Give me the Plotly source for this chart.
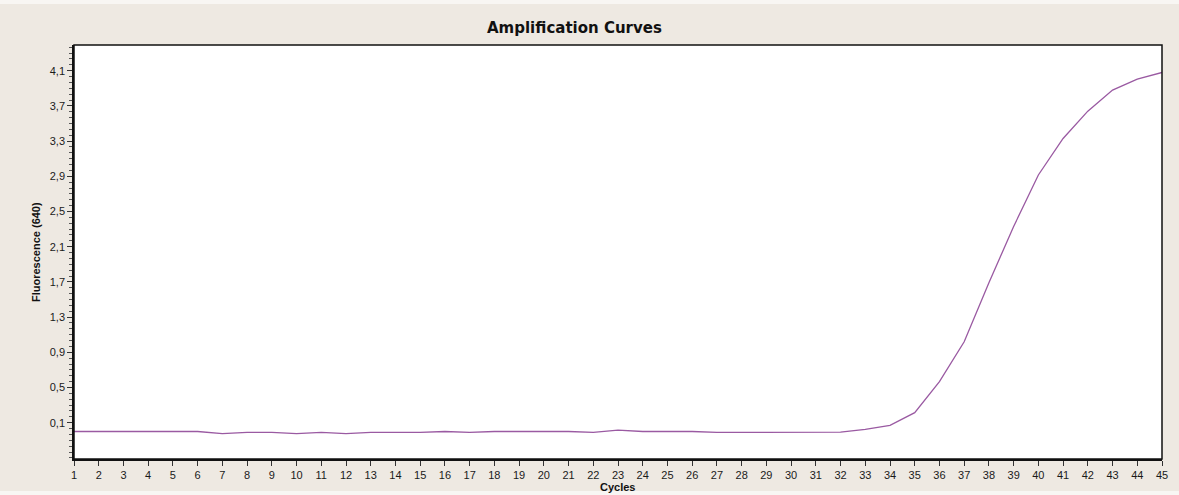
import plotly.graph_objects as go

# Amplification data: fluorescence (640 nm channel) per PCR cycle
cycles = list(range(1, 46))
fluorescence = [
    0.000, 0.000, 0.000, 0.000, 0.000, 0.000, -0.025, -0.010, -0.010, -0.025,
    -0.010, -0.025, -0.010, -0.010, -0.010, 0.000, -0.010, 0.000, 0.000, 0.000,
    0.000, -0.010, 0.015, 0.000, 0.000, 0.000, -0.010, -0.010, -0.010, -0.010,
    -0.010, -0.008, 0.025, 0.070, 0.214, 0.566, 1.020, 1.690, 2.330, 2.915,
    3.330, 3.640, 3.880, 4.005, 4.080,
]

y_ticks = [0.1, 0.5, 0.9, 1.3, 1.7, 2.1, 2.5, 2.9, 3.3, 3.7, 4.1]

W, H = 1179, 495
L, R, T, B = 74, 1162, 45, 459

PANEL = "#EEE9E2"
TICK_FONT = dict(family="Liberation Sans, Arial, sans-serif", size=11, color="#1a1a1a")

fig = go.Figure()
fig.add_trace(go.Scatter(
    x=cycles, y=fluorescence, mode="lines",
    line=dict(color="#9A5AA2", width=1.3),
    showlegend=False, hoverinfo="x+y",
))

fig.update_layout(
    width=W, height=H,
    margin=dict(l=L, r=W - R, t=T, b=H - B, pad=0),
    paper_bgcolor=PANEL,
    plot_bgcolor="white",
    separators=",.",
    showlegend=False,
    annotations=[
        dict(text="<b>Amplification Curves</b>", xref="paper", yref="paper",
             x=(574 - L) / (R - L), y=1 + (T - 28) / (B - T),
             xanchor="center", yanchor="middle", showarrow=False,
             font=dict(family="DejaVu Sans, sans-serif", size=15, color="#111")),
        dict(text="<b>Fluorescence (640)</b>", xref="paper", yref="paper",
             x=-(L - 36) / (R - L), y=0.5, textangle=-90,
             xanchor="center", yanchor="middle", showarrow=False,
             font=dict(family="Liberation Sans, Arial, sans-serif", size=11, color="#111")),
        dict(text="<b>Cycles</b>", xref="paper", yref="paper",
             x=(617 - L) / (R - L), y=-(487 - B) / (B - T),
             xanchor="center", yanchor="middle", showarrow=False,
             font=dict(family="Liberation Sans, Arial, sans-serif", size=11, color="#111")),
    ],
    shapes=[
        # light outer edges around the beige panel
        dict(type="rect", xref="paper", yref="paper", layer="below",
             x0=-L / (R - L), x1=(W - L) / (R - L),
             y0=1 + (T - 0) / (B - T), y1=1 + (T - 4) / (B - T),
             fillcolor="#F8F6F3", line=dict(width=0)),
        dict(type="rect", xref="paper", yref="paper", layer="below",
             x0=-L / (R - L), x1=(W - L) / (R - L),
             y0=-(H - B) / (B - T), y1=-(491 - B) / (B - T),
             fillcolor="#F8F6F3", line=dict(width=0)),
        # plot frame
        dict(type="rect", xref="paper", yref="paper",
             x0=0, x1=1, y0=0, y1=1,
             line=dict(color="#111", width=1.5), fillcolor="rgba(0,0,0,0)"),
    ],
)

fig.update_xaxes(
    range=[1, 45], tickmode="linear", tick0=1, dtick=1,
    ticks="outside", ticklen=5, tickwidth=1, tickcolor="#333",
    showgrid=False, zeroline=False,
    showline=True, linecolor="#111", linewidth=1.5,
    tickfont=TICK_FONT,
)
fig.update_yaxes(
    range=[-0.3125, 4.392],
    tickmode="array", tickvals=y_ticks, tickformat=".1f",
    ticks="outside", ticklen=5, tickwidth=1, tickcolor="#333",
    minor=dict(tickmode="linear", tick0=0.1, dtick=0.4 / 6,
               ticks="outside", ticklen=3, tickcolor="#555", tickwidth=1),
    showgrid=False, zeroline=False,
    showline=True, linecolor="#111", linewidth=1.5,
    tickfont=TICK_FONT,
)

fig.write_html("out.html")
